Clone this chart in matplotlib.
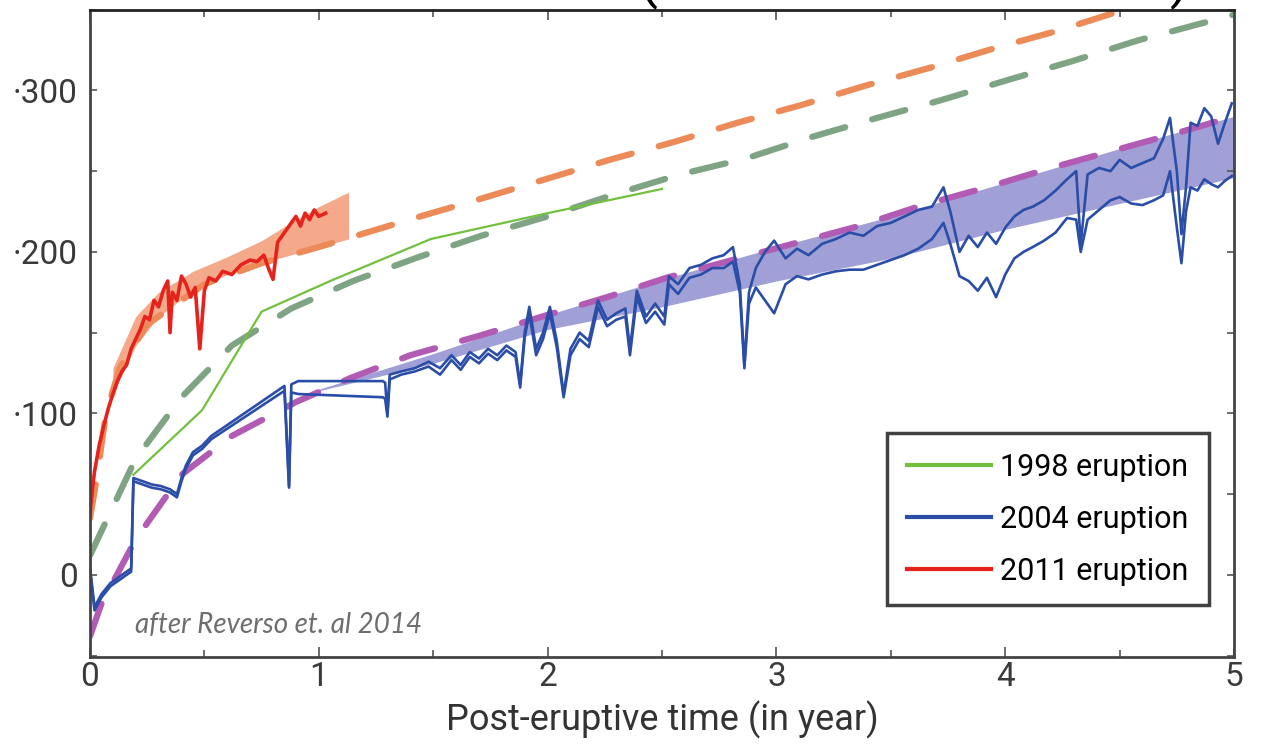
import numpy as np
import matplotlib
matplotlib.use("Agg")
from matplotlib import pyplot as plt
from matplotlib.ticker import MultipleLocator

plt.rcParams['font.family'] = ['Roboto', 'DejaVu Sans']

# 1998 eruption (green) and its model (grey-green dashed)
green_x = [0.19, 0.49, 0.75, 1.05, 1.49, 2.00, 2.50]
green_y = [62, 102, 163, 182, 208, 224, 239]
model98_x = [0.0, 0.05, 0.20, 0.40, 0.62, 0.88, 1.15, 1.44, 1.71, 2.00, 2.30, 2.58, 2.87, 3.15, 3.44, 3.72, 4.00, 4.29, 4.58, 4.87, 5.00]
model98_y = [12, 27, 72, 110, 142, 165, 182, 197, 210, 222, 236, 248, 258, 271, 283, 294, 306, 318, 331, 342, 347]

# 2011 eruption (red), model (orange dashed) and uncertainty band
red_x = [0, 0.01, 0.02, 0.04, 0.06, 0.08, 0.10, 0.12, 0.14, 0.16, 0.18, 0.20, 0.22, 0.24, 0.26, 0.28,
         0.30, 0.32, 0.34, 0.35, 0.36, 0.38, 0.40, 0.42, 0.44, 0.46, 0.48, 0.50, 0.52, 0.55, 0.58, 0.62,
         0.66, 0.70, 0.73, 0.76, 0.78, 0.80, 0.82, 0.84, 0.86, 0.88, 0.90, 0.92, 0.94, 0.96, 0.98, 1.00, 1.03]
red_y = [38, 52, 64, 80, 92, 103, 112, 120, 126, 130, 140, 146, 152, 160, 158, 170,
         166, 176, 182, 150, 175, 170, 185, 180, 172, 178, 140, 176, 184, 182, 188, 186,
         192, 195, 194, 198, 190, 183, 206, 210, 214, 218, 222, 216, 224, 220, 226, 222, 224]
model11_x = [0.0, 0.03, 0.07, 0.13, 0.25, 0.50, 0.75, 1.00, 1.14, 1.42, 1.71, 1.99, 2.27, 2.55, 2.83, 3.11, 3.39, 3.67, 3.95, 4.23, 4.52]
model11_y = [35, 60, 100, 128, 155, 180, 193, 203, 209, 221, 233, 245, 257, 268, 280, 291, 303, 314, 326, 337, 350]
band11_x = [0.10, 0.20, 0.30, 0.45, 0.60, 0.75, 0.90, 1.00, 1.13]
band11_lo = [112, 142, 160, 176, 186, 193, 199, 203, 208]
band11_hi = [128, 160, 175, 188, 197, 207, 220, 228, 237]

# 2004 eruption (two blue records), model (magenta dashed) and band
blue_x = [0.00, 0.02, 0.05, 0.09, 0.12, 0.16, 0.18, 0.19, 0.23, 0.27, 0.31, 0.35, 0.38, 0.40, 0.42, 0.45, 0.49, 0.53,
          0.85, 0.87, 0.88, 0.91, 1.28, 1.29, 1.30, 1.31, 1.36, 1.42, 1.48, 1.53, 1.58, 1.62, 1.66, 1.70, 1.74, 1.78, 1.82,
          1.86, 1.88, 1.90, 1.92, 1.95, 1.98, 2.01, 2.04, 2.07, 2.10, 2.14, 2.18, 2.22, 2.26, 2.30, 2.34, 2.36, 2.39, 2.43,
          2.47, 2.51, 2.53, 2.57, 2.62, 2.67, 2.72, 2.77, 2.81, 2.84, 2.86, 2.88, 2.91, 2.95, 2.99, 3.04, 3.09, 3.14, 3.20,
          3.26, 3.32, 3.38, 3.44, 3.50, 3.56, 3.62, 3.68, 3.73, 3.76, 3.80, 3.84, 3.88, 3.92, 3.96, 4.00, 4.04, 4.08, 4.12,
          4.17, 4.22, 4.27, 4.31, 4.33, 4.36, 4.41, 4.46, 4.50, 4.55, 4.60, 4.65, 4.69, 4.72, 4.75, 4.77, 4.79, 4.81, 4.84,
          4.87, 4.90, 4.93, 4.96, 4.99]
blue_a = [5, -20, -12, -5, -2, 2, 4, 60, 58, 56, 55, 53, 50, 60, 68, 76, 80, 86,
          117, 55, 118, 120, 120, 119, 100, 124, 126, 128, 132, 128, 136, 130, 138, 134, 140, 136, 142,
          138, 118, 150, 166, 140, 150, 166, 145, 112, 140, 150, 145, 170, 158, 162, 165, 140, 176, 160,
          168, 160, 185, 180, 190, 192, 196, 198, 203, 180, 130, 175, 190, 200, 207, 196, 202, 198, 205,
          208, 212, 210, 216, 218, 222, 226, 228, 240, 225, 200, 210, 203, 212, 205, 215, 222, 226, 228,
          232, 238, 245, 250, 205, 248, 252, 250, 257, 252, 255, 258, 270, 283, 250, 211, 240, 280, 278,
          289, 284, 267, 280, 292]
blue_b = [3, -22, -14, -7, -4, 0, 2, 58, 56, 54, 53, 51, 48, 58, 66, 74, 78, 84,
          114, 54, 113, 112, 110, 109, 98, 121, 124, 126, 129, 124, 133, 127, 135, 131, 137, 133, 139,
          135, 116, 147, 162, 136, 146, 162, 141, 110, 136, 146, 141, 166, 154, 158, 160, 136, 172, 156,
          163, 155, 180, 174, 184, 186, 190, 190, 194, 175, 128, 168, 178, 170, 162, 180, 185, 183, 186,
          188, 189, 189, 192, 195, 198, 202, 208, 218, 205, 185, 182, 176, 184, 172, 186, 196, 200, 203,
          207, 212, 221, 220, 200, 220, 226, 232, 234, 230, 229, 232, 235, 250, 215, 193, 225, 240, 238,
          245, 242, 240, 244, 247]
model04_x = [0.0, 0.05, 0.20, 0.40, 0.62, 0.90, 1.14, 1.40, 1.70, 2.00, 2.26, 2.52, 3.36, 3.64, 3.92, 4.20, 4.48, 4.76, 5.00]
model04_y = [-38, -18, 22, 62, 86, 107, 122, 136, 148, 161, 172, 184, 216, 229, 240, 252, 263, 274, 284]
band04_x = [1.0, 1.5, 2.0, 2.5, 3.0, 3.5, 4.0, 4.5, 5.0]
band04_lo = [114, 131, 152, 166, 182, 196, 214, 230, 246]
band04_hi = [115, 137, 161, 183, 203, 222, 243, 264, 284]

yticks = [0, 100, 200, 300]
ytick_labels = ['0', '·100', '·200', '·300']
xticks = [0, 1, 2, 3, 4, 5]

fig = plt.figure(figsize=(12.67, 7.46), dpi=100)
ax = fig.add_axes([0.071, 0.119, 0.903, 0.868])

dash = (0, (5.5, 4.5))
ax.fill_between(band04_x, band04_lo, band04_hi, color='#9090cf', alpha=0.85, lw=0)
ax.fill_between(band11_x, band11_lo, band11_hi, color='#f4a07e', alpha=0.9, lw=0)
ax.plot(model98_x, model98_y, color='#7fa484', lw=4.5, ls=dash, dash_capstyle='round')
ax.plot(model11_x, model11_y, color='#ec8a58', lw=4.5, ls=dash, dash_capstyle='round')
ax.plot(model04_x, model04_y, color='#b25bb5', lw=4.5, ls=dash, dash_capstyle='round')
ax.plot(green_x, green_y, color='#72c040', lw=1.6, label='1998 eruption')
ax.plot(blue_x, blue_b, color='#2a4da8', lw=1.9)
ax.plot(blue_x, blue_a, color='#2a4da8', lw=1.9, label='2004 eruption')
ax.plot(red_x, red_y, color='#e5231d', lw=2.6, label='2011 eruption')

ax.set_xlim(0, 5)
ax.set_ylim(-51, 350)
ax.set_xticks(xticks)
ax.set_yticks(yticks)
ax.set_yticklabels(ytick_labels)
ax.xaxis.set_minor_locator(MultipleLocator(0.5))
ax.yaxis.set_minor_locator(MultipleLocator(50))
ax.tick_params(which='both', direction='in', top=True, right=True, color='#555555', width=1.2)
ax.tick_params(which='major', length=7, labelsize=24, labelcolor='#3a3a3a')
ax.tick_params(axis='y', which='major', length=5, pad=9)
ax.tick_params(axis='x', which='major', pad=3)
ax.tick_params(which='minor', length=5)
for s in ax.spines.values():
    s.set_color('#444444')
    s.set_linewidth(2.0)
ax.spines['top'].set_color('#222222')

ax.set_xlabel('Post-eruptive time (in year)', fontsize=26, color='#333333', labelpad=5)

leg = ax.legend(loc='lower left', bbox_to_anchor=(0.697, 0.080), borderaxespad=0, fontsize=22,
                handlelength=2.75, labelspacing=0.75, borderpad=0.65, handletextpad=0.3, fancybox=False)
leg.get_frame().set_edgecolor('#111111')
leg.get_frame().set_linewidth(2.5)
for line in leg.get_lines():
    line.set_linewidth(3.0)

ax.text(0.039, 0.037, 'after Reverso et. al 2014', transform=ax.transAxes, family=['Lato', 'DejaVu Sans'],
        style='italic', fontsize=20, color='#6e6e6e', va='baseline')

# clipped title glyphs at the top edge
fig.text(648 / 1267, 1 - 10 / 746, '(', fontsize=40, va='bottom', ha='center')
fig.text(1180 / 1267, 1 - 10 / 746, ')', fontsize=40, va='bottom', ha='center')

fig.savefig('out.png', dpi=100)
